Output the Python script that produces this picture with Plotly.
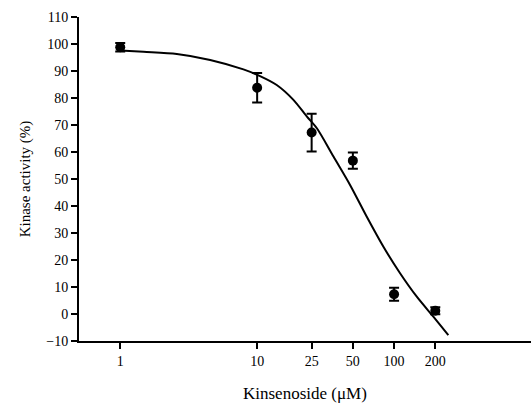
import numpy as np
import plotly.graph_objects as go

# Measured data
conc = [1, 10, 25, 50, 100, 200]
activity = [98.8, 83.8, 67.2, 56.8, 7.3, 1.2]
err = [1.6, 5.5, 7.0, 3.0, 2.4, 1.3]

# Fitted curve
curve_x = [1.0, 1.48, 2.59, 4.54, 7.94, 10.5, 13.9, 18.4, 23.1, 27.3, 36.1, 47.7,
           63.2, 83.6, 110.6, 146.5, 193.6, 249]
curve_y = [97.6, 97.1, 96.3, 94.1, 90.6, 88.1, 84.8, 79.3, 73.1, 68.8, 58.3, 47.8,
           36.0, 24.9, 15.1, 6.4, -1.0, -7.8]

xticks = [1, 10, 25, 50, 100, 200]
xtick_text = ["1", "10", "25", "50", "100", "200"]
yticks = list(range(-10, 111, 10))

FONT = "Liberation Serif, Times New Roman, serif"

fig = go.Figure()
fig.add_trace(go.Scatter(
    x=curve_x, y=curve_y, mode="lines",
    line=dict(color="black", width=2, shape="spline", smoothing=0.8),
    hoverinfo="skip", showlegend=False))
fig.add_trace(go.Scatter(
    x=conc, y=activity, mode="markers",
    marker=dict(color="black", size=10, symbol="circle"),
    error_y=dict(type="data", array=err, visible=True, color="black",
                 thickness=2, width=5),
    showlegend=False))

fig.update_layout(
    width=551, height=405,
    margin=dict(l=79, r=0, t=17, b=64),
    paper_bgcolor="white", plot_bgcolor="white",
    font=dict(family=FONT, size=14, color="black"),
    xaxis=dict(
        type="log", range=[np.log10(0.5), 3.146],
        tickmode="array", tickvals=xticks, ticktext=xtick_text,
        ticks="outside", ticklen=6, tickwidth=2, tickcolor="black",
        showline=True, linewidth=2, linecolor="black",
        showgrid=False, zeroline=False,
        tickfont=dict(family=FONT, size=14, color="black"),
        title=dict(text="Kinsenoside (μM)", font=dict(family=FONT, size=17, color="black"),
                   standoff=20),
    ),
    yaxis=dict(
        range=[-10, 110],
        tickmode="array", tickvals=yticks,
        ticks="outside", ticklen=6, tickwidth=2, tickcolor="black",
        showline=True, linewidth=2, linecolor="black",
        showgrid=False, zeroline=False,
        tickfont=dict(family=FONT, size=14, color="black"),
        title=dict(text="Kinase activity (%)", font=dict(family=FONT, size=15, color="black"),
                   standoff=12),
    ),
    # x-axis title centred on the visible part of the plot
)
fig.update_xaxes(title_text="")
fig.add_annotation(text="Kinsenoside (μM)", xref="paper", yref="paper",
                   x=(305 - 79) / (551 - 79), y=-(393 - 341) / 324,
                   xanchor="center", yanchor="middle", showarrow=False,
                   font=dict(family=FONT, size=17, color="black"))

fig.write_html("out.html", config={"displayModeBar": False, "staticPlot": True},
               post_script="document.body.style.margin='0';document.body.style.overflow='hidden';")
